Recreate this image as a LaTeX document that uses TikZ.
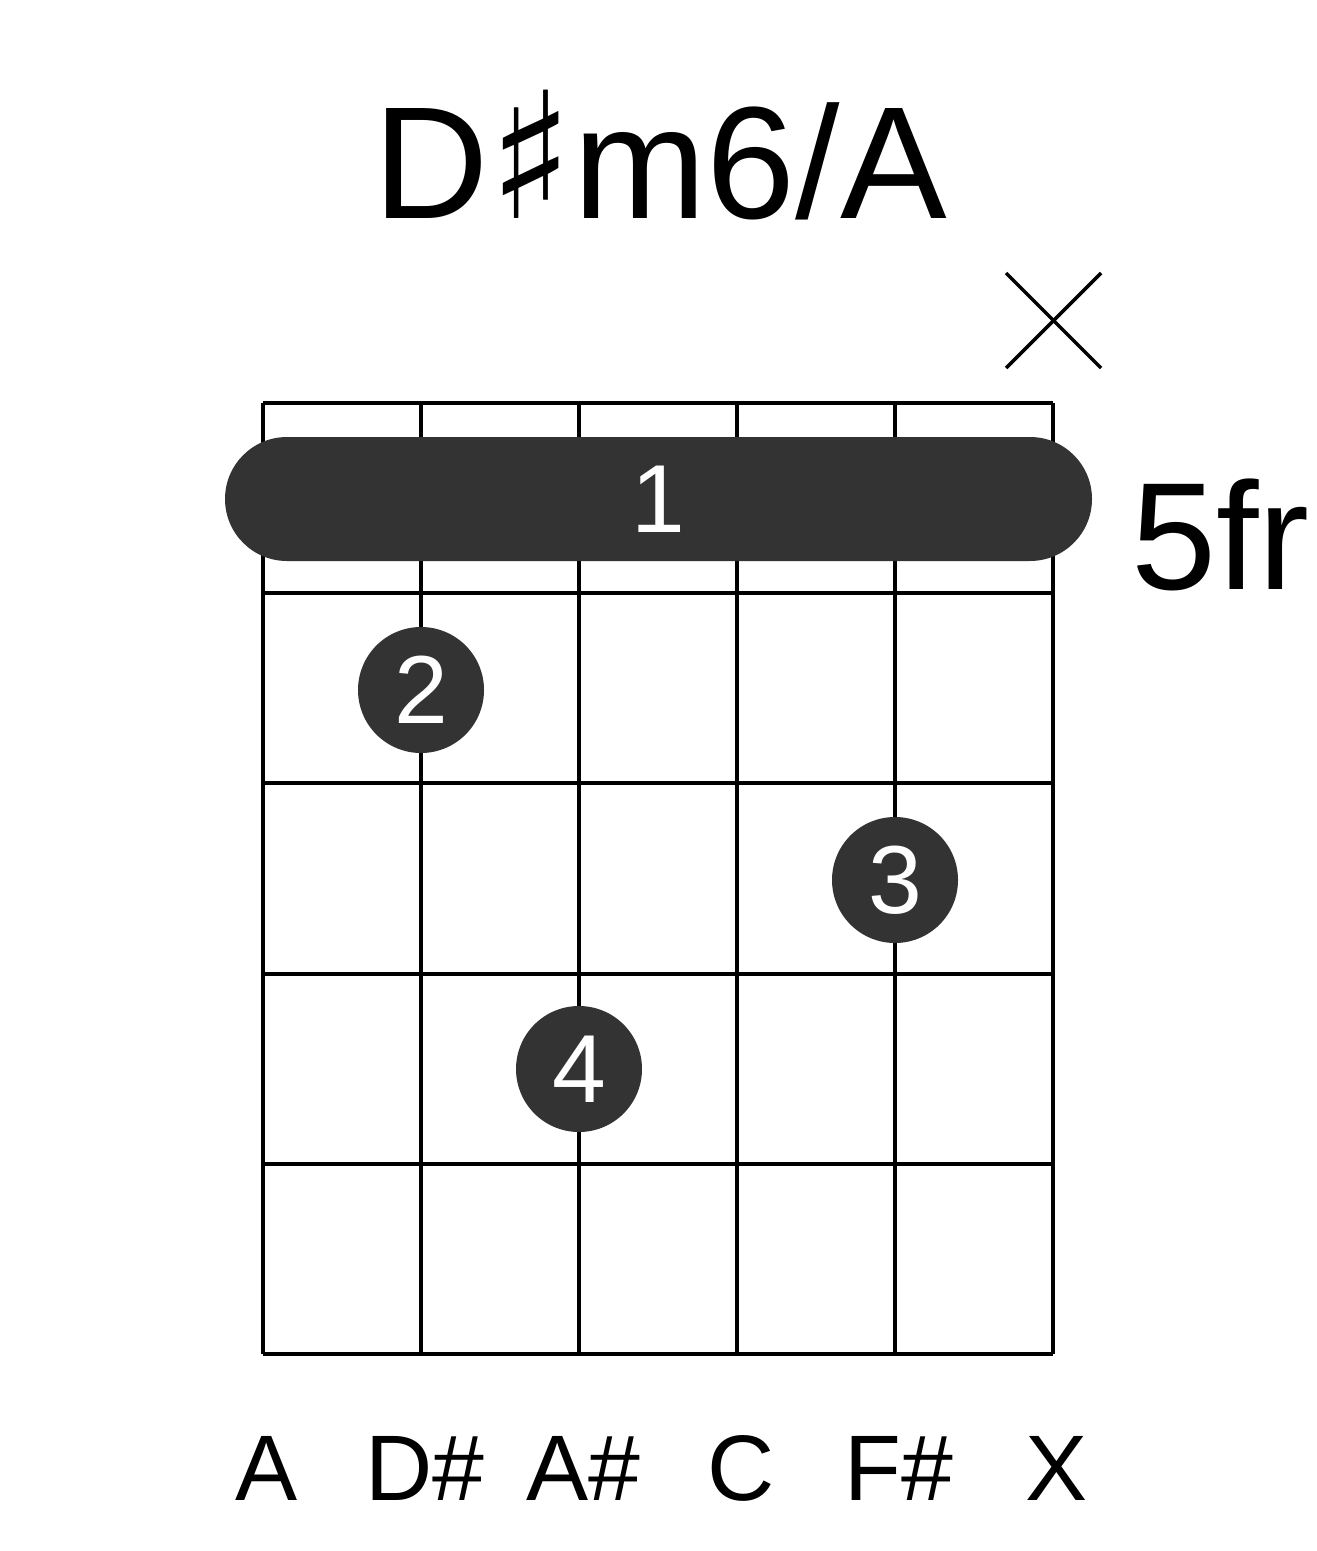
\documentclass[tikz,border=0pt]{standalone}
\usepackage{fontspec}
\setmainfont{Liberation Sans}
\newfontfamily\symfont{DejaVu Sans}
\usetikzlibrary{positioning}
\definecolor{dotgray}{HTML}{333333}
\tikzset{
  gridline/.style={line width=2.3pt,black},
  fingerdot/.style={circle,fill=dotgray,minimum size=126*0.02cm,inner sep=0pt,text=white,font=\fontsize{55}{55}\selectfont},
  stringname/.style={font=\fontsize{53}{53}\selectfont}
}
\begin{document}
\begin{tikzpicture}[x=0.02cm,y=-0.02cm]
  \useasboundingbox (0,0) rectangle (1317,1551);
  % title
  \node (title) at (660,155) {\fontsize{91}{91}\selectfont D{\symfont\fontsize{100}{100}\selectfont ♯}m6/A};
  % frets and strings
  \foreach \i in {0,...,5} {
    \draw[gridline] (263+158*\i,403) -- (263+158*\i,1354);
    \draw[gridline] (263,403+190.2*\i) -- (1053,403+190.2*\i);
  }
  % muted string
  \draw[line width=2pt] (1006,273) -- (1101,368);
  \draw[line width=2pt] (1101,273) -- (1006,368);
  % barre
  \node[fill=dotgray,rounded corners=62*0.02cm,minimum width=867*0.02cm,minimum height=124*0.02cm,text=white,font=\fontsize{55}{55}\selectfont] (barre) at (658.5,499) {1};
  \node[anchor=west,font=\fontsize{87}{87}\selectfont] (fret) at (1125,535) {5fr};
  % fingers
  \node[fingerdot] (f2) at (421,690) {2};
  \node[fingerdot] (f3) at (895,880) {3};
  \node[fingerdot] (f4) at (579,1069) {4};
  % note names
  \foreach \n [count=\k from 0] in {A,D\#,A\#,C,F\#,X}
    \node[stringname] (s\k) at (267+158*\k,1468) {\n};
\end{tikzpicture}
\end{document}
